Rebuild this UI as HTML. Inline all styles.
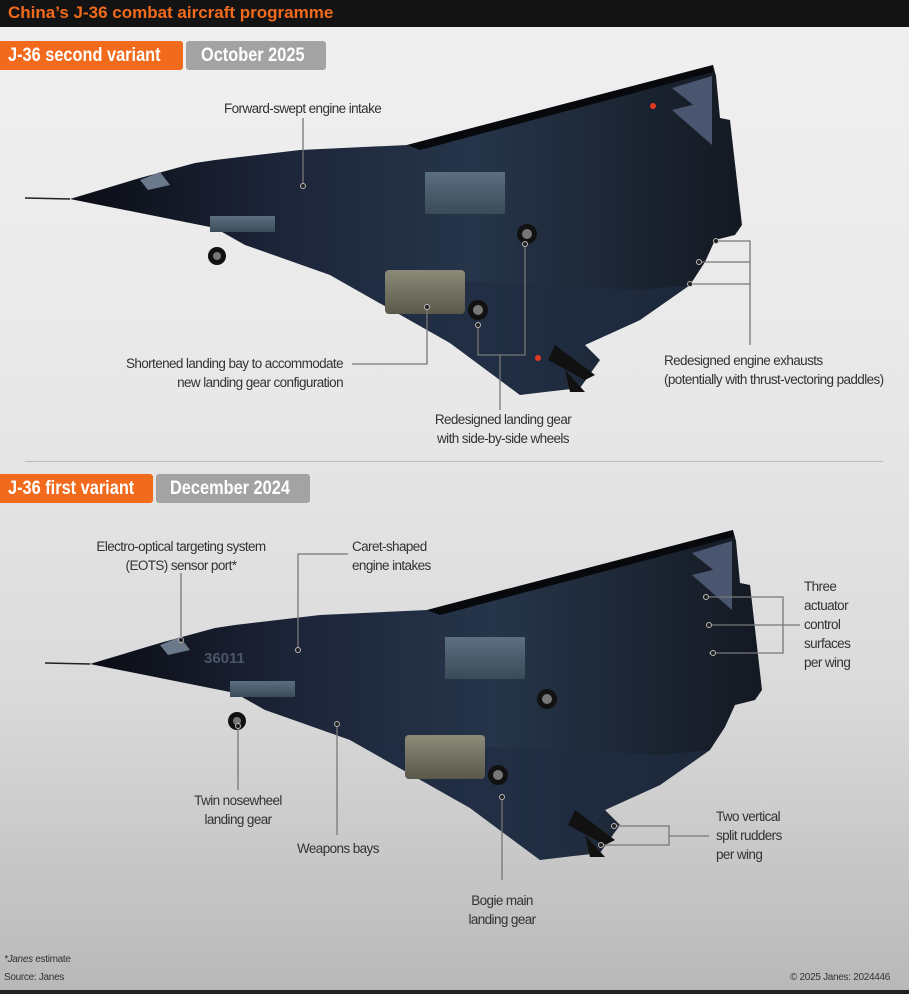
<!DOCTYPE html>
<html><head><meta charset="utf-8"><style>
html,body{margin:0;padding:0}
body{width:909px;height:994px;position:relative;overflow:hidden;font-family:"Liberation Sans",Arial,sans-serif;background:linear-gradient(180deg,#f0f0f0 0%,#e8e8e8 40%,#dadada 70%,#b8b8b8 100%)}
.t{position:absolute;font-size:13.5px;color:#333;line-height:19px;letter-spacing:-0.6px;white-space:nowrap}
.hdr{position:absolute;left:0;top:0;width:909px;height:27px;background:#131313;color:#f26a1b;font-weight:bold;font-size:17px;line-height:26px;padding-left:8px;box-sizing:border-box}
.tag{position:absolute;height:29px;line-height:29px;color:#fff;font-weight:bold;font-size:19px;border-radius:3px;box-sizing:border-box;white-space:nowrap;overflow:hidden}
.tag span{display:inline-block;transform:scaleX(0.86);transform-origin:0 50%;position:absolute;left:8px}
</style></head><body>
<div class="hdr">China’s J-36 combat aircraft programme</div>
<div class="tag" style="left:0;top:41px;width:183px;background:#f26a1b;border-radius:0 3px 3px 0"><span>J-36 second variant</span></div>
<div class="tag" style="left:186px;top:41px;width:140px;background:#a3a3a3"><span style="left:15px">October 2025</span></div>
<div style="position:absolute;left:25px;top:461px;width:858px;height:1px;background:#bbb"></div>
<div class="tag" style="left:0;top:474px;width:153px;background:#f26a1b;border-radius:0 3px 3px 0"><span>J-36 first variant</span></div>
<div class="tag" style="left:156px;top:474px;width:154px;background:#a3a3a3"><span style="left:14px">December 2024</span></div>

<svg width="909" height="994" style="position:absolute;left:0;top:0">
<defs>
<linearGradient id="g1" x1="0" y1="0" x2="1" y2="0">
<stop offset="0" stop-color="#0b0d14"/><stop offset="0.3" stop-color="#1c2438"/><stop offset="0.6" stop-color="#26354a"/><stop offset="1" stop-color="#141922"/></linearGradient>
<linearGradient id="g2" x1="0" y1="0" x2="0" y2="1"><stop offset="0" stop-color="#5c6f80"/><stop offset="1" stop-color="#3a4a58"/></linearGradient>
<linearGradient id="g3" x1="0" y1="0" x2="0" y2="1"><stop offset="0" stop-color="#8c8a78"/><stop offset="1" stop-color="#5a584a"/></linearGradient>
<g id="ac">
<path d="M70,199 L140,178 L195,163 L215,160 L300,150 L407,145 L713,65 L716,76 L720,118 L730,120 L742,225 L735,235 L715,240 L705,262 L690,285 L640,320 L585,345 L600,360 L580,388 L545,392 L520,395 L450,343 L330,275 L265,252 L245,245 L215,228 Z" fill="url(#g1)"/>
<path d="M407,145 L713,65 L713,72 L420,150 Z" fill="#07090d"/>
<path d="M520,395 L450,343 L330,275 L640,290 L690,285 L640,320 L585,345 L560,385 Z" fill="#1f2c42" opacity="0.7"/>
<path d="M672,88 L712,76 L712,120 Z M672,110 L712,100 L712,145 Z" fill="#4a5570"/>
<rect x="425" y="172" width="80" height="42" fill="url(#g2)"/>
<rect x="210" y="216" width="65" height="16" fill="url(#g2)"/>
<rect x="385" y="270" width="80" height="44" rx="4" fill="url(#g3)"/>
<path d="M140,180 L160,172 L170,185 L148,190 Z" fill="#6a7a8a"/>
<circle cx="217" cy="256" r="9" fill="#111"/><circle cx="217" cy="256" r="4" fill="#777"/>
<circle cx="527" cy="234" r="10" fill="#111"/><circle cx="527" cy="234" r="5" fill="#777"/>
<circle cx="478" cy="310" r="10" fill="#111"/><circle cx="478" cy="310" r="5" fill="#777"/>
<path d="M555,345 L595,375 L585,380 L548,360 Z M565,370 L585,392 L570,392 Z" fill="#111"/>
<path d="M25,198 L70,199" stroke="#222" stroke-width="1.5"/>
</g>
</defs>
<use href="#ac"/>
<circle cx="653" cy="106" r="3" fill="#e03a20"/><circle cx="538" cy="358" r="3" fill="#e03a20"/>
<use href="#ac" transform="translate(20,465)"/>
<g stroke="#777" stroke-width="1.3" fill="none">
<path d="M303,118 V186"/>
<path d="M352,364 H427 V307"/>
<path d="M478,325 V355 H525 V244"/>
<path d="M500,355 V410"/>
<path d="M716,241 H750 V285 M699,262 H750 M690,284 H750 M750,285 V345"/>
<path d="M181,573 V645"/>
<path d="M348,554 H298 V650"/>
<path d="M706,597 H783 V653 H709 M709,625 H800"/>
<path d="M238,728 V790"/>
<path d="M337,724 V835"/>
<path d="M502,799 V880"/>
<path d="M614,826 H669 V845 H601 M669,836 H709"/>
</g>
<g fill="#222" stroke="#bbb" stroke-width="1">
<circle cx="303" cy="186" r="2.5"/><circle cx="427" cy="307" r="2.5"/><circle cx="478" cy="325" r="2.5"/><circle cx="525" cy="244" r="2.5"/>
<circle cx="716" cy="241" r="2.5"/><circle cx="699" cy="262" r="2.5"/><circle cx="690" cy="284" r="2.5"/>
<circle cx="181" cy="640" r="2.5"/><circle cx="298" cy="650" r="2.5"/><circle cx="706" cy="597" r="2.5"/><circle cx="709" cy="625" r="2.5"/><circle cx="713" cy="653" r="2.5"/>
<circle cx="238" cy="726" r="2.5"/><circle cx="337" cy="724" r="2.5"/><circle cx="502" cy="797" r="2.5"/><circle cx="614" cy="826" r="2.5"/><circle cx="601" cy="845" r="2.5"/>
</g>
<text x="204" y="663" font-family="Liberation Sans" font-weight="bold" font-size="15" fill="#4a5566">36011</text>
</svg>

<div class="t" style="left:224px;top:99px">Forward-swept engine intake</div>
<div class="t" style="left:103px;top:354px;text-align:right;width:240px">Shortened landing bay to accommodate<br>new landing gear configuration</div>
<div class="t" style="left:420px;top:410px;text-align:center;width:166px">Redesigned landing gear<br>with side-by-side wheels</div>
<div class="t" style="left:664px;top:351px">Redesigned engine exhausts<br>(potentially with thrust-vectoring paddles)</div>
<div class="t" style="left:85px;top:537px;text-align:center;width:192px">Electro-optical targeting system<br>(EOTS) sensor port*</div>
<div class="t" style="left:352px;top:537px">Caret-shaped<br>engine intakes</div>
<div class="t" style="left:804px;top:577px">Three<br>actuator<br>control<br>surfaces<br>per wing</div>
<div class="t" style="left:716px;top:807px">Two vertical<br>split rudders<br>per wing</div>
<div class="t" style="left:180px;top:791px;text-align:center;width:116px">Twin nosewheel<br>landing gear</div>
<div class="t" style="left:297px;top:839px">Weapons bays</div>
<div class="t" style="left:450px;top:891px;text-align:center;width:104px">Bogie main<br>landing gear</div>
<div class="t" style="left:4px;top:953px;font-size:10px;line-height:13px;letter-spacing:-0.3px"><i>*Janes</i> estimate</div>
<div class="t" style="left:4px;top:971px;font-size:10px;line-height:13px;letter-spacing:-0.3px">Source: Janes</div>
<div class="t" style="left:790px;top:971px;font-size:10px;line-height:13px;letter-spacing:-0.3px">© 2025 Janes: 2024446</div>
<div style="position:absolute;left:0;top:990px;width:909px;height:4px;background:#222"></div>
</body></html>
